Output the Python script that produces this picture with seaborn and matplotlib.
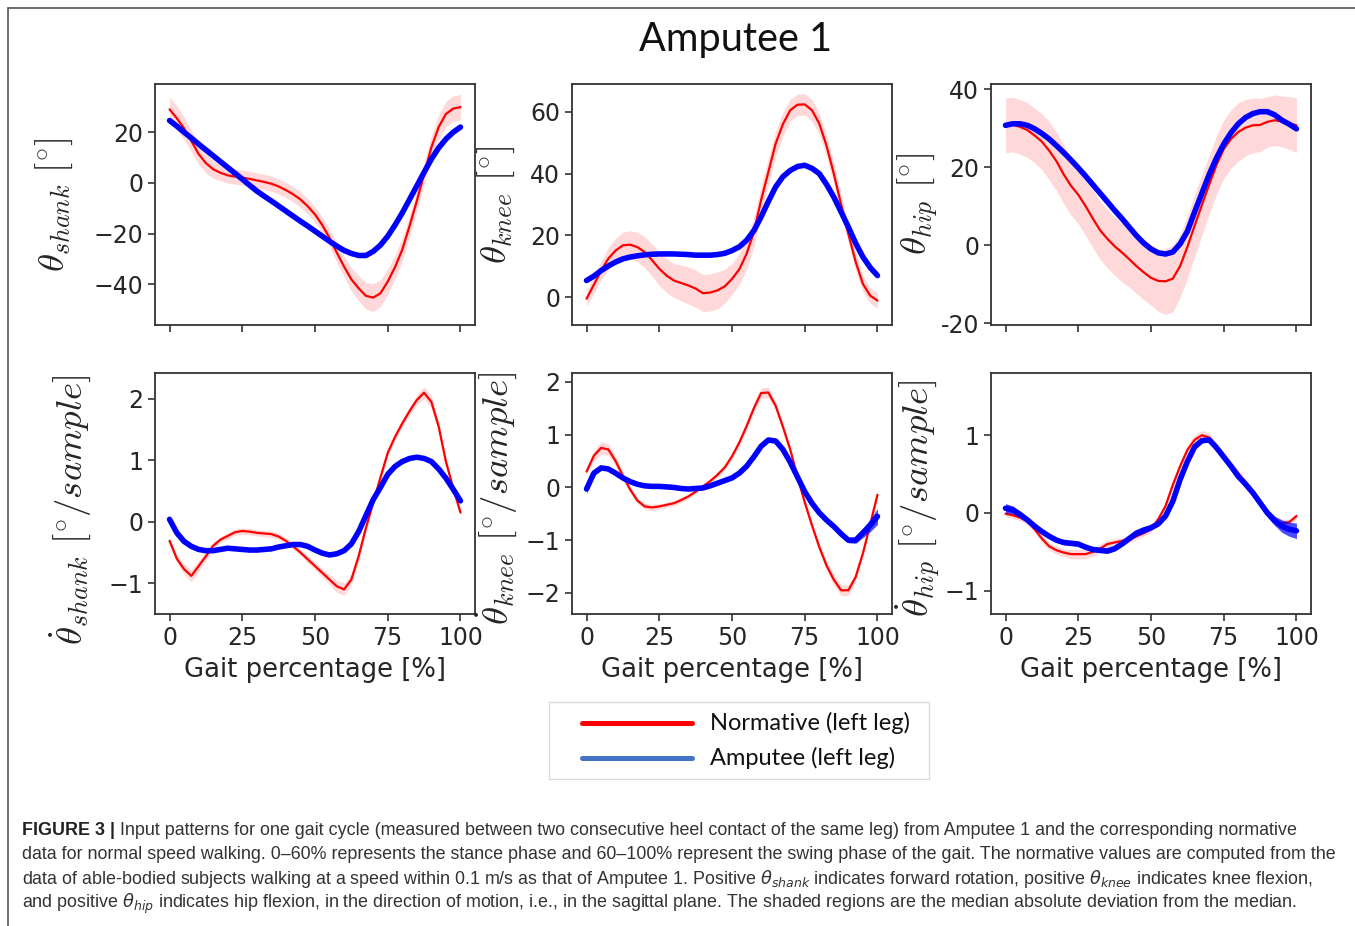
import matplotlib
matplotlib.use("Agg")
import numpy as np
import pandas as pd
import matplotlib.pyplot as plt
from matplotlib.lines import Line2D
from matplotlib.patches import Rectangle
import seaborn as sns

# gait cycle sampled every 2.5 %
pct = [0, 2.5, 5, 7.5, 10, 12.5, 15, 17.5, 20, 22.5, 25, 27.5, 30, 32.5, 35, 37.5, 40,
       42.5, 45, 47.5, 50, 52.5, 55, 57.5, 60, 62.5, 65, 67.5, 70, 72.5, 75, 77.5, 80,
       82.5, 85, 87.5, 90, 92.5, 95, 97.5, 100]

# normative (red) medians and median absolute deviation
shank_norm = [29, 25.5, 21.5, 16.5, 11.4, 7.8, 5.4, 4.0, 3.0, 2.5, 2.1, 1.6, 1.0, 0.4, -0.3,
              -1.4, -2.8, -4.5, -6.5, -9.2, -12.4, -16.6, -21.7, -27.5, -33, -38, -41.5, -44.5,
              -45.2, -43.5, -38.9, -33.2, -26.3, -17, -7.1, 3.5, 14, 22, 27.2, 29.3, 29.9]
shank_norm_mad = [5, 4.8, 4.5, 4.2, 4, 3.8, 3.5, 3.2, 3, 3, 3, 3, 3, 3, 3, 3, 3, 3, 3, 3, 3,
                  3.2, 3.5, 3.8, 4, 4.5, 5, 5.2, 5.5, 5.2, 5, 4.8, 4.5, 4.2, 4, 4.2, 4.5, 4.8,
                  5, 5, 5]
knee_norm = [-0.5, 4.0, 8.6, 12.5, 15.1, 16.8, 17, 16.2, 14.6, 12, 9.2, 7, 5.4, 4.6, 3.8, 2.8,
             1.3, 1.5, 2.2, 3.5, 5.9, 9, 14, 21, 31.4, 40.5, 49.7, 56, 60.5, 62.3, 62.4, 60.5,
             56.2, 49, 40, 30, 20.5, 11.5, 4.3, 0.5, -1.1]
knee_norm_mad = [2.5, 2.8, 3, 3.5, 4, 4.3, 4.5, 4.8, 5, 5.2, 5.5, 5.5, 5.5, 5.8, 6, 6, 6, 6, 6,
                 5.5, 5, 5, 5, 4.8, 4.5, 4.2, 4, 3.8, 3.5, 3.5, 3.5, 3.5, 3.5, 3.5, 3.5, 3.2, 3,
                 2.8, 2.5, 2.5, 2.5]
hip_norm = [30.7, 30.9, 30.3, 29.5, 28.1, 26.5, 24.2, 21.5, 18.1, 15.2, 12.9, 10, 6.8, 3.8, 1.6,
            -0.3, -1.9, -3.6, -5.4, -7, -8.4, -9.2, -9.3, -8.6, -5.4, -0.5, 5, 10.3, 15.5,
            20.5, 24.6, 27.2, 29, 30.1, 30.7, 30.8, 31.6, 32, 31.7, 31.3, 30.7]
hip_norm_mad = [7, 7, 7, 7, 7, 7.2, 7.5, 7.5, 7.5, 7.5, 7.5, 7.5, 7.5, 7.5, 7.5, 7.5, 7.5, 7.2,
                7, 7, 7, 7.8, 8.5, 8.5, 8, 8, 8, 7.8, 7.5, 7.5, 7.5, 7.5, 7.5, 7.2, 7, 6.8,
                6.5, 6.5, 6.5, 6.8, 7]
shank_vel_norm = [-0.31, -0.6, -0.77, -0.88, -0.72, -0.56, -0.39, -0.29, -0.23, -0.17, -0.15,
                  -0.16, -0.18, -0.19, -0.2, -0.24, -0.31, -0.4, -0.5, -0.61, -0.72, -0.83,
                  -0.94, -1.05, -1.1, -0.94, -0.56, -0.1, 0.31, 0.72, 1.12, 1.38, 1.6, 1.8,
                  1.98, 2.1, 1.95, 1.55, 0.98, 0.55, 0.15]
shank_vel_norm_mad = [0.06, 0.07, 0.08, 0.1, 0.09, 0.07, 0.06, 0.05, 0.05, 0.05, 0.05, 0.05,
                      0.05, 0.05, 0.05, 0.05, 0.05, 0.05, 0.05, 0.06, 0.06, 0.07, 0.08, 0.1, 0.1,
                      0.09, 0.08, 0.07, 0.06, 0.06, 0.06, 0.06, 0.06, 0.07, 0.08, 0.1, 0.1, 0.08,
                      0.06, 0.05, 0.05]
knee_vel_norm = [0.3, 0.6, 0.75, 0.72, 0.5, 0.22, -0.04, -0.25, -0.36, -0.38, -0.36, -0.33,
                 -0.3, -0.24, -0.17, -0.08, 0.02, 0.12, 0.24, 0.38, 0.59, 0.85, 1.16, 1.5, 1.79,
                 1.8, 1.55, 1.15, 0.72, 0.2, -0.28, -0.72, -1.13, -1.48, -1.75, -1.95, -1.95,
                 -1.7, -1.25, -0.7, -0.14]
knee_vel_norm_mad = [0.05, 0.1, 0.12, 0.11, 0.1, 0.08, 0.06, 0.06, 0.06, 0.06, 0.05, 0.05, 0.05,
                     0.05, 0.04, 0.04, 0.04, 0.04, 0.05, 0.05, 0.06, 0.07, 0.08, 0.09, 0.1, 0.1,
                     0.08, 0.07, 0.06, 0.06, 0.06, 0.06, 0.08, 0.09, 0.1, 0.1, 0.1, 0.08, 0.06,
                     0.05, 0.05]
hip_vel_norm = [-0.01, -0.03, -0.06, -0.11, -0.21, -0.33, -0.43, -0.48, -0.51, -0.53, -0.53,
                -0.53, -0.5, -0.46, -0.4, -0.38, -0.36, -0.34, -0.3, -0.26, -0.21, -0.08, 0.09,
                0.36, 0.6, 0.81, 0.94, 1.0, 0.97, 0.85, 0.74, 0.62, 0.51, 0.39, 0.26, 0.13, 0.0,
                -0.1, -0.13, -0.12, -0.04]
hip_vel_norm_mad = [0.04, 0.04, 0.04, 0.04, 0.04, 0.05, 0.05, 0.05, 0.05, 0.06, 0.06, 0.06,
                    0.06, 0.06, 0.05, 0.05, 0.04, 0.04, 0.04, 0.04, 0.04, 0.04, 0.05, 0.05, 0.06,
                    0.06, 0.06, 0.06, 0.06, 0.05, 0.05, 0.05, 0.05, 0.05, 0.05, 0.05, 0.05, 0.05,
                    0.05, 0.04, 0.04]

# amputee (blue) medians and spread between strides
shank_amp = [24.6, 22.4, 20, 17.7, 15.3, 13, 10.7, 8.4, 6.1, 3.8, 1.5, -0.9, -3.2, -5.2, -7.1,
             -9.1, -11.1, -13.1, -15.1, -17, -19, -21, -23, -24.9, -26.6, -27.8, -28.6, -28.6,
             -27, -24.5, -21, -16.6, -11.8, -6.5, -1.2, 4.2, 9.4, 13.8, 17.3, 20, 22]
knee_amp = [5.4, 6.8, 8.6, 10.1, 11.4, 12.4, 13, 13.4, 13.7, 13.9, 14, 14, 14, 13.9, 13.8, 13.6,
            13.6, 13.6, 13.8, 14.2, 15.1, 16.3, 18.4, 21.5, 26, 31, 35.7, 39, 41, 42.3, 42.7,
            41.7, 40, 36.5, 32.4, 27.6, 22.7, 17.5, 13, 9.6, 7]
hip_amp = [30.7, 31.1, 31.1, 30.7, 29.8, 28.6, 27.2, 25.5, 23.7, 21.8, 19.8, 17.7, 15.5, 13.3,
           11.1, 8.9, 6.8, 4.6, 2.4, 0.5, -1, -2, -2.3, -1.8, 0.3, 3.5, 8.5, 13.3, 18.1, 22.3,
           25.9, 28.8, 31.1, 32.7, 33.7, 34.2, 34.2, 33.4, 32, 31, 29.8]
shank_vel_amp = [0.04, -0.18, -0.32, -0.4, -0.45, -0.47, -0.47, -0.45, -0.43, -0.44, -0.45,
                 -0.46, -0.46, -0.45, -0.44, -0.41, -0.39, -0.37, -0.37, -0.4, -0.46, -0.51,
                 -0.54, -0.52, -0.47, -0.36, -0.16, 0.1, 0.36, 0.56, 0.77, 0.9, 0.98, 1.03, 1.05,
                 1.03, 0.98, 0.86, 0.71, 0.53, 0.34]
knee_vel_amp = [-0.03, 0.27, 0.37, 0.35, 0.27, 0.18, 0.11, 0.06, 0.03, 0.02, 0.02, 0.01, 0.0,
                -0.02, -0.03, -0.02, -0.01, 0.03, 0.08, 0.13, 0.18, 0.27, 0.4, 0.58, 0.78, 0.9,
                0.88, 0.72, 0.48, 0.2, -0.08, -0.3, -0.48, -0.62, -0.74, -0.88, -1.0, -1.0,
                -0.86, -0.72, -0.55]
hip_vel_amp = [0.06, 0.04, -0.02, -0.09, -0.17, -0.24, -0.3, -0.35, -0.38, -0.39, -0.4, -0.44,
               -0.47, -0.48, -0.49, -0.46, -0.4, -0.33, -0.26, -0.22, -0.19, -0.14, -0.04, 0.15,
               0.43, 0.66, 0.85, 0.93, 0.94, 0.84, 0.72, 0.6, 0.47, 0.37, 0.26, 0.13, 0.0,
               -0.1, -0.17, -0.21, -0.23]
knee_vel_amp_sd = [0.08, 0.05, 0.03, 0.03, 0.03, 0.03, 0.03, 0.03, 0.03, 0.03, 0.03, 0.03, 0.03,
                   0.03, 0.03, 0.03, 0.03, 0.03, 0.03, 0.03, 0.03, 0.03, 0.03, 0.03, 0.03, 0.03,
                   0.03, 0.04, 0.04, 0.04, 0.04, 0.04, 0.04, 0.04, 0.04, 0.04, 0.05, 0.06, 0.09,
                   0.12, 0.15]
hip_vel_amp_sd = [0.06, 0.05, 0.04, 0.03, 0.03, 0.03, 0.03, 0.03, 0.03, 0.03, 0.03, 0.03, 0.03,
                  0.03, 0.03, 0.03, 0.03, 0.03, 0.04, 0.04, 0.03, 0.03, 0.03, 0.03, 0.03, 0.03,
                  0.03, 0.03, 0.03, 0.03, 0.03, 0.03, 0.03, 0.03, 0.04, 0.04, 0.05, 0.06, 0.08,
                  0.09, 0.1]
zero_sd = [0.0] * len(pct)

xticks = [0, 25, 50, 75, 100]
legend_labels = ["Normative (left leg)", "Amputee (left leg)"]
legend_colors = ["#ff0000", "#4472c4"]

sns.set_theme(style="ticks")
plt.rcParams['font.family'] = ['DejaVu Sans']
plt.rcParams['mathtext.fontset'] = 'cm'

W, H = 1355, 926
fig = plt.figure(figsize=(W / 100, H / 100), dpi=100)

# (norm, mad, amp, amp spread, ylim, yticks, ylabel, label x, label y, col, row)
panels = [
    (shank_norm, shank_norm_mad, shank_amp, zero_sd, (-56, 39), [-40, -20, 0, 20],
     r'$\theta_{shank}\ [^{\circ}]$', -0.25, 0.5, 0, 0),
    (knee_norm, knee_norm_mad, knee_amp, zero_sd, (-9, 69), [0, 20, 40, 60],
     r'$\theta_{knee}\ [^{\circ}]$', -0.172, 0.5, 1, 0),
    (hip_norm, hip_norm_mad, hip_amp, zero_sd, (-20.5, 41.3), [-20, 0, 20, 40],
     r'$\theta_{hip}\ [^{\circ}]$', -0.159, 0.5, 2, 0),
    (shank_vel_norm, shank_vel_norm_mad, shank_vel_amp, zero_sd, (-1.5, 2.42), [-1, 0, 1, 2],
     r'$\dot{\theta}_{shank}\ [^{\circ}/sample]$', -0.194, 0.43, 0, 1),
    (knee_vel_norm, knee_vel_norm_mad, knee_vel_amp, knee_vel_amp_sd, (-2.4, 2.17),
     [-2, -1, 0, 1, 2], r'$\dot{\theta}_{knee}\ [^{\circ}/sample]$', -0.166, 0.48, 1, 1),
    (hip_vel_norm, hip_vel_norm_mad, hip_vel_amp, hip_vel_amp_sd, (-1.3, 1.8), [-1, 0, 1],
     r'$\dot{\theta}_{hip}\ [^{\circ}/sample]$', -0.153, 0.48, 2, 1),
]

col_left = [155, 572, 991]
row_top = [84, 373]
ax_w, ax_h = 320, 241

for norm, mad, amp, amp_sd, ylim, yt, ylab, lx, ly, c, r in panels:
    ax = fig.add_axes([col_left[c] / W, 1 - (row_top[r] + ax_h) / H, ax_w / W, ax_h / H])
    df = pd.DataFrame({"pct": pct, "norm": norm, "mad": mad, "amp": amp, "sd": amp_sd})
    ax.fill_between(df["pct"], df["norm"] - df["mad"], df["norm"] + df["mad"],
                    color="red", alpha=0.15, lw=0)
    sns.lineplot(data=df, x="pct", y="norm", color="red", lw=1.6, ax=ax)
    ax.fill_between(df["pct"], df["amp"] - df["sd"], df["amp"] + df["sd"],
                    color="blue", alpha=0.7, lw=0, zorder=3)
    sns.lineplot(data=df, x="pct", y="amp", color="blue", lw=4, ax=ax, zorder=4)

    ax.set_xlim(-5, 105)
    ax.set_ylim(*ylim)
    ax.set_xticks(xticks)
    if c == 2 and r == 0:
        ax.set_yticks(yt, labels=[str(v) for v in yt])
    else:
        ax.set_yticks(yt)
    ax.tick_params(labelsize=17, length=5, width=1.2, color="#333333", direction="out")
    for s in ax.spines.values():
        s.set_color("#333333")
        s.set_linewidth(1.3)
    ax.set_ylabel(ylab, fontsize=26.5, math_fontfamily="cm")
    ax.yaxis.set_label_coords(lx, ly)
    if r == 0:
        ax.tick_params(labelbottom=False)
        ax.set_xlabel("")
    else:
        ax.set_xlabel("Gait percentage [%]", fontsize=18.6, labelpad=5)

# title
fig.text(736 / W, 1 - 40 / H, "Amputee 1", ha="center", va="center", fontsize=28.5,
         family="Lato", color="#111111")

# legend box drawn in figure pixels
fig.add_artist(Rectangle((549 / W, 1 - 779 / H), 380 / W, 77 / H, transform=fig.transFigure,
                         facecolor="white", edgecolor="#dcdcdc", lw=1))
for lab, col, y in zip(legend_labels, legend_colors, [723, 758]):
    fig.add_artist(Line2D([582 / W, 692 / W], [1 - y / H, 1 - y / H],
                          transform=fig.transFigure, color=col, lw=3.6))
    fig.text(710 / W, 1 - y / H, lab, ha="left", va="center", family="Lato", fontsize=17,
             color="#111111")

# frame lines around the figure panel
fig.add_artist(Line2D([8 / W, 1], [1 - 8 / H, 1 - 8 / H], transform=fig.transFigure,
                      color="#555555", lw=1.2))
fig.add_artist(Line2D([8 / W, 8 / W], [1 - 8 / H, 0], transform=fig.transFigure,
                      color="#555555", lw=1.2))

# caption
cap_lines = [
    "Input patterns for one gait cycle (measured between two consecutive heel contact of the same leg) from Amputee 1 and the corresponding normative",
    "data for normal speed walking. 0\u201360% represents the stance phase and 60\u2013100% represent the swing phase of the gait. The normative values are computed from the",
    r"data of able-bodied subjects walking at a speed within 0.1 m/s as that of Amputee 1. Positive $\theta_{shank}$ indicates forward rotation, positive $\theta_{knee}$ indicates knee flexion,",
    r"and positive $\theta_{hip}$ indicates hip flexion, in the direction of motion, i.e., in the sagittal plane. The shaded regions are the median absolute deviation from the median.",
]
baselines = [835, 859, 884, 908]
cap_kw = dict(family="Liberation Sans", fontsize=12.9, va="baseline",
              math_fontfamily="dejavusans")
bold = fig.text(22 / W, 1 - baselines[0] / H, "FIGURE 3 |", fontweight="bold",
                color="#222222", **cap_kw)
fig.canvas.draw()
bb = bold.get_window_extent()
fig.text((bb.x1 + 5) / W, 1 - baselines[0] / H, cap_lines[0], color="#333333", **cap_kw)
for line, y in zip(cap_lines[1:], baselines[1:]):
    fig.text(22 / W, 1 - y / H, line, color="#333333", **cap_kw)

fig.savefig("out.png", dpi=100)
